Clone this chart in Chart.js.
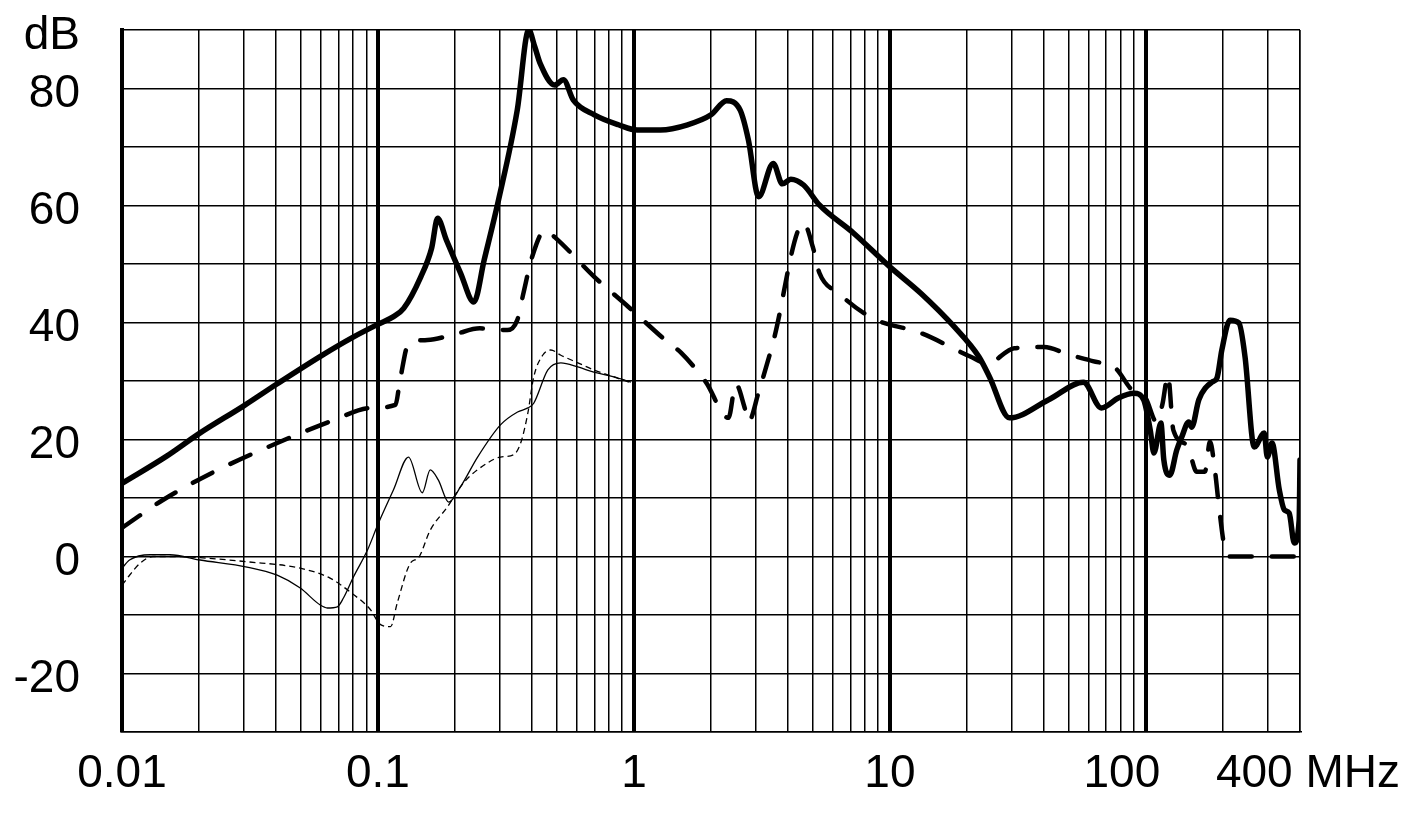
<!DOCTYPE html>
<html>
<head>
<meta charset="utf-8">
<script src="https://cdn.jsdelivr.net/npm/chart.js@4.4.0/dist/chart.umd.min.js"></script>
<style>
  body { margin: 0; background: #fff; }
  #wrap { width: 1413px; height: 823px; }
</style>
</head>
<body>
<div id="wrap"><canvas id="emiChart" width="1413" height="823"></canvas></div>
<script>
// levels in dB against frequency in MHz

// thick solid curve
const solidFreq = [0.01, 0.015, 0.02, 0.03, 0.04, 0.06, 0.08, 0.1, 0.115, 0.126,
  0.147, 0.162, 0.171, 0.185, 0.21, 0.237, 0.26, 0.296, 0.35, 0.388,
  0.41, 0.43, 0.49, 0.53, 0.58, 0.70, 0.87, 1.03, 1.27, 1.62,
  2.0, 2.3, 2.6, 2.8, 3.07, 3.5, 3.8, 4.1, 4.6, 5.3,
  7.2, 10, 13.2, 17.9, 22.3, 24.5, 29.3, 41.7, 57, 67,
  78, 90, 98, 104, 107.5, 114.5, 117.5, 124, 132, 138,
  147, 151, 161, 181, 189.5, 198, 213, 231, 244, 265,
  290, 298, 311, 332, 347, 363, 380, 397, 400];
const solidDb = [12.5, 17.2, 21, 25.8, 29.4, 34.3, 37.5, 39.7, 41, 42.4,
  47.8, 52.7, 57.8, 54.1, 48.5, 43.5, 50.7, 61, 76.3, 90,
  87.1, 84.3, 80.6, 81.5, 78, 75.5, 73.8, 72.9, 72.9, 73.8,
  75.5, 77.9, 76.3, 71.2, 61.5, 67.2, 63.7, 64.5, 63.5, 60.1,
  55.3, 49.5, 45, 39.2, 34.1, 30.7, 23.7, 26.8, 29.8, 25.4,
  27.1, 27.9, 26.8, 21.6, 17.7, 22.8, 16.5, 13.9, 18.2, 20.4,
  23, 22.1, 26.8, 29.8, 30.5, 35.3, 40.4, 39.9, 34.1, 18.7,
  21.1, 17, 19.4, 11.4, 8, 7.4, 2.3, 6.2, 16.5];

// thick dashed curve
const dashFreq = [0.01, 0.0145, 0.0227, 0.0404, 0.067, 0.0935, 0.117, 0.122, 0.132, 0.156,
  0.2, 0.25, 0.32, 0.35, 0.37, 0.40, 0.45, 0.49, 0.70, 0.95,
  1.35, 1.53, 1.91, 2.34, 2.5, 2.7, 2.8, 3.07, 3.5, 4.6,
  5.0, 5.3, 6.3, 8.5, 13.2, 20.8, 24, 30.6, 40, 50,
  62, 76, 88, 100, 110, 116, 122, 128, 145, 158,
  170, 178, 186, 193, 203, 212, 400];
const dashDb = [4.9, 9.7, 14.4, 19.4, 23.3, 25.4, 25.9, 30.2, 36.5, 37,
  38, 39, 38.7, 40.4, 45, 51.2, 55.8, 54.6, 47.8, 42.7,
  36.7, 34.8, 29.8, 23.7, 29.5, 25.6, 23, 28.1, 36.7, 57,
  52.9, 48.5, 45, 40.8, 38.2, 34.1, 33, 35.6, 35.8, 34.5,
  33.4, 32.2, 28.5, 27, 23, 26, 31, 21.6, 19, 14.5,
  14.5, 19.6, 14.8, 8.5, 1.5, 0, 0];

// thin solid curve
const thinFreq = [0.01, 0.0107, 0.0129, 0.0154, 0.0202, 0.0308, 0.0404, 0.0497, 0.0595, 0.0634,
  0.0694, 0.0733, 0.0802, 0.091, 0.1, 0.115, 0.1316, 0.149, 0.160, 0.172,
  0.189, 0.210, 0.245, 0.301, 0.351, 0.385, 0.406, 0.461, 0.518, 0.604,
  0.697, 0.835, 0.973];
const thinDb = [-2, -0.6, 0.3, 0.3, -0.6, -1.8, -3.2, -5.4, -8.3, -8.8,
  -8.6, -7.1, -3.5, 1.1, 5.5, 11.4, 17, 10.9, 14.8, 13.1,
  9.3, 11.9, 17, 22.5, 24.7, 25.4, 26.2, 31.9, 33.1, 32.4,
  31.5, 30.7, 29.8];

// thin dashed curve
const thinDashFreq = [0.01, 0.0107, 0.0118, 0.0132, 0.0164, 0.0202, 0.0308, 0.0497, 0.065, 0.078,
  0.0935, 0.102, 0.112, 0.119, 0.134, 0.144, 0.160, 0.187, 0.216, 0.268,
  0.301, 0.339, 0.361, 0.385, 0.406, 0.440, 0.473, 0.518, 0.604, 0.697,
  0.835, 0.973];
const thinDashDb = [-4.9, -3.2, -1.1, 0, 0, -0.2, -0.9, -2, -3.7, -6.1,
  -9.1, -11.6, -12, -7.9, -1.1, -0.2, 4.5, 8.5, 12.6, 16,
  17, 17.4, 19.4, 24.5, 30.7, 34.4, 35.3, 34.4, 33.1, 31.9,
  30.7, 29.7];

// axis labels
const xLabelAt = [0.01, 0.1, 1, 10, 100, 400];
const xLabelText = ['0.01', '0.1', '1', '10', '100', '400 MHz'];
const yLabelAt = [90, 80, 60, 40, 20, 0, -20];
const yLabelText = ['dB', '80', '60', '40', '20', '0', '-20'];

const decades = [0.01, 0.1, 1, 10, 100];
const xGrid = [];
decades.forEach(d => {
  for (let m = 1; m <= 9; m++) {
    if (d * m <= 400) xGrid.push(d * m);
  }
});
xGrid.push(400);

const FONT = '"Liberation Sans", Arial, sans-serif';

function pts(fs, ds) {
  return fs.map((f, i) => ({ x: f, y: ds[i] }));
}

function isDecade(v) {
  const l = Math.log10(v);
  return Math.abs(l - Math.round(l)) < 1e-9 && v < 400;
}

const xLabels = {
  id: 'xLabels',
  afterDraw(chart) {
    const ctx = chart.ctx;
    const xs = chart.scales.x;
    ctx.save();
    ctx.font = '46px ' + FONT;
    ctx.fillStyle = '#000';
    ctx.textBaseline = 'middle';
    xLabelText.forEach((t, i) => {
      let px = xs.getPixelForValue(xLabelAt[i]);
      ctx.textAlign = 'center';
      if (t === '100') px -= 24;
      if (i === xLabelText.length - 1) {
        ctx.textAlign = 'right';
        px += 100;
      }
      ctx.fillText(t, px, chart.chartArea.bottom + 42);
    });
    ctx.restore();
  }
};

const ctx = document.getElementById('emiChart').getContext('2d');
new Chart(ctx, {
  type: 'line',
  data: {
    datasets: [
      {
        data: pts(thinFreq, thinDb),
        borderColor: '#000',
        borderWidth: 1.3
      },
      {
        data: pts(thinDashFreq, thinDashDb),
        borderColor: '#000',
        borderWidth: 1.3,
        borderDash: [6, 4]
      },
      {
        data: pts(dashFreq, dashDb),
        borderColor: '#000',
        borderWidth: 4.5,
        borderDash: [22, 20],
        borderCapStyle: 'round'
      },
      {
        data: pts(solidFreq, solidDb),
        borderColor: '#000',
        borderWidth: 5.5,
        borderCapStyle: 'round',
        borderJoinStyle: 'round'
      }
    ]
  },
  options: {
    responsive: false,
    animation: false,
    events: [],
    layout: { padding: { top: 30, right: 113, left: 0, bottom: 0 } },
    elements: {
      point: { radius: 0 },
      line: { fill: false, cubicInterpolationMode: 'monotone' }
    },
    plugins: {
      legend: { display: false },
      tooltip: { enabled: false }
    },
    scales: {
      x: {
        type: 'logarithmic',
        min: 0.01,
        max: 400,
        afterBuildTicks: (scale) => {
          scale.ticks = xGrid.map(v => ({ value: v }));
        },
        afterFit: (scale) => { scale.height = 91; },
        ticks: { display: false, autoSkip: false },
        grid: {
          color: '#000',
          drawTicks: false,
          lineWidth: (c) => (c.tick && isDecade(c.tick.value)) ? 4 : 1.5
        },
        border: { display: true, color: '#000', width: 1.5 }
      },
      y: {
        min: -30,
        max: 90,
        afterFit: (scale) => {
          scale.width = 122;
          scale.paddingTop = 20;
          scale.paddingBottom = 20;
        },
        ticks: {
          stepSize: 10,
          autoSkip: false,
          padding: 42,
          labelOffset: 6,
          color: '#000',
          font: { family: FONT, size: 46 },
          callback: (v) => {
            const i = yLabelAt.indexOf(v);
            return i >= 0 ? yLabelText[i] : '';
          }
        },
        grid: { color: '#000', drawTicks: false, lineWidth: 1.5 },
        border: { display: true, color: '#000', width: 4 }
      }
    }
  },
  plugins: [xLabels]
});
</script>
</body>
</html>
